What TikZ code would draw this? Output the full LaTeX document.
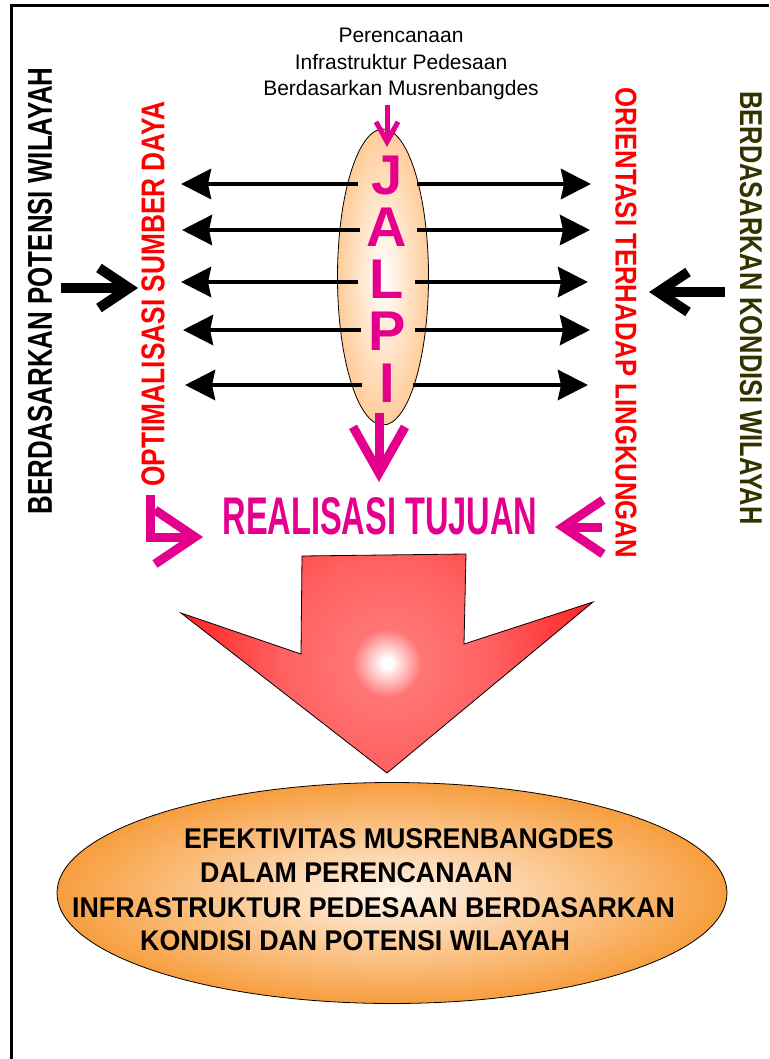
\documentclass[tikz,border=0pt]{standalone}
\usepackage{fontspec}
\setmainfont{Liberation Sans}
\newfontfamily\sempit{Liberation Sans}[FakeStretch=0.94]
\usetikzlibrary{arrows.meta,shapes.geometric}

\definecolor{ungu}{RGB}{228,0,140}
\definecolor{merah}{RGB}{255,0,0}
\definecolor{zaitun}{RGB}{51,51,0}
\definecolor{persik}{RGB}{255,204,153}
\definecolor{jingga}{RGB}{247,158,62}
\definecolor{krem}{RGB}{255,244,234}
\definecolor{panahmerah}{RGB}{255,32,32}
\definecolor{panahmuda}{RGB}{255,118,118}

\pgfdeclareradialshading{panahglow}{\pgfpoint{0bp}{0bp}}{color(0bp)=(white); color(5bp)=(white); color(34bp)=(panahmuda); color(105bp)=(panahmuda!75!panahmerah); color(215bp)=(panahmerah); color(220bp)=(panahmerah)}

% teks dipadatkan ke lebar x tinggi tertentu
\newcommand{\pas}[3]{\resizebox{#1pt}{#2pt}{\bfseries #3}}

\begin{document}
\begin{tikzpicture}[x=1pt, y=-1pt, line join=miter,
    teks/.style={inner sep=0pt},
    panah/.style={line width=4.5, -{Stealth[length=30pt,width=30pt,inset=3pt]}},
    tebal/.style={line width=10, -{Straight Barb[length=30pt,width=40pt]}},
    panahjalpi/.style={ungu, line width=9, -{Straight Barb[length=40pt,width=54pt]}}]
    \useasboundingbox (0,0) rectangle (769,1059);

    % bingkai
    \draw[line width=3] (11,1059) -- (11,6) -- (769,6);

    % judul atas
    \node[teks, align=center, font=\fontsize{21}{26.5}\selectfont] (judul) at (401,64)
        {Perencanaan\\Infrastruktur Pedesaan\\Berdasarkan Musrenbangdes};

    % elips JALPI
    \node[ellipse, draw, line width=0.8, minimum width=91, minimum height=296, inner sep=0pt,
        shading=radial, inner color=white, outer color=persik] (jalpi) at (383,277) {};
    \node[teks, ungu, align=center, font=\fontsize{56}{52}\bfseries] (huruf) at (387,279)
        {J\\A\\L\\P\\I};

    % panah masuk dan keluar JALPI
    \coordinate (atas) at (387,105);
    \coordinate (masuk) at (387,147);
    \draw[ungu, line width=5, -{Straight Barb[length=20pt,width=22pt]}] (atas) -- (masuk);
    \coordinate (keluar) at (379,413);
    \coordinate (tuju) at (379,482);
    \draw[panahjalpi, -{Straight Barb[length=46pt,width=52pt]}] (keluar) -- (tuju);

    % panah kiri dan kanan
    \foreach \y/\xa/\xb/\xc/\xd [count=\i] in {184/358/181/417/591, 230/360/182/417/590,
        282/358/181/415/588, 330/361/183/415/590, 385/362/185/413/588}{
        \coordinate (a\i) at (\xa,\y);
        \coordinate (kiri\i) at (\xb,\y);
        \coordinate (b\i) at (\xc,\y);
        \coordinate (kanan\i) at (\xd,\y);
        \draw[panah] (a\i) -- (kiri\i);
        \draw[panah] (b\i) -- (kanan\i);
    }

    % teks tegak
    \node[teks, rotate=90] (potensi) at (40,291) {\pas{447}{24}{BERDASARKAN POTENSI WILAYAH}};
    \node[teks, rotate=90, merah] (optimal) at (153,294) {\pas{385}{23}{OPTIMALISASI SUMBER DAYA}};
    \node[teks, rotate=-90, merah] (orientasi) at (626,323) {\pas{470}{21}{ORIENTASI TERHADAP LINGKUNGAN}};
    \node[teks, rotate=-90, zaitun] (kondisi) at (751,308) {\pas{433}{22}{BERDASARKAN KONDISI WILAYAH}};

    % panah hitam tebal
    \coordinate (p1) at (61,288);
    \coordinate (p2) at (138,288);
    \draw[tebal] (p1) -- (p2);
    \coordinate (k1) at (725,292);
    \coordinate (k2) at (649,292);
    \draw[tebal] (k1) -- (k2);

    % realisasi tujuan
    \node[teks, ungu] (realisasi) at (380,516) {\pas{315}{37}{REALISASI TUJUAN}};
    \coordinate (sikuA) at (150,495);
    \coordinate (sikuB) at (203,537);
    \draw[panahjalpi] (sikuA) |- (sikuB);
    \coordinate (kanA) at (602,527);
    \coordinate (kanB) at (555,527);
    \draw[panahjalpi] (kanA) -- (kanB);

    % panah besar merah
    \draw[line width=0.8, path picture={
        \node[inner sep=0pt] at (387,663) {\pgfuseshading{panahglow}};}]
        (302,556) -- (466,554) -- (464,644) -- (593,602) -- (387,773)
        -- (181,613) -- (301,654) -- cycle;

    % elips hasil
    \node[ellipse, draw, line width=0.8, minimum width=670, minimum height=221, inner sep=0pt,
        shading=radial, inner color=krem, outer color=jingga] (hasil) at (392,893) {};
    \node[teks, anchor=base west, font=\sempit\fontsize{28.5}{34}\bfseries] (baris1) at (184,848) {EFEKTIVITAS MUSRENBANGDES};
    \node[teks, anchor=base west, font=\sempit\fontsize{28.5}{34}\bfseries] (baris2) at (200,882) {DALAM PERENCANAAN};
    \node[teks, anchor=base west, font=\sempit\fontsize{28.5}{34}\bfseries] (baris3) at (72,917) {INFRASTRUKTUR PEDESAAN BERDASARKAN};
    \node[teks, anchor=base west, font=\sempit\fontsize{28.5}{34}\bfseries] (baris4) at (140,950) {KONDISI DAN POTENSI WILAYAH};
\end{tikzpicture}
\end{document}
